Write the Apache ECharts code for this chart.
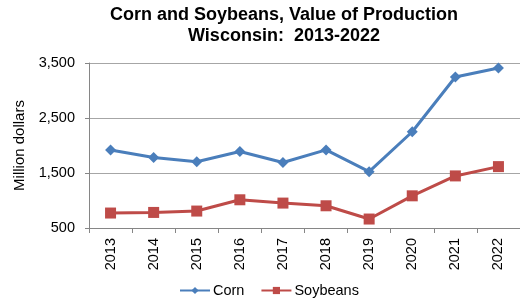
<!DOCTYPE html>
<html><head><meta charset="utf-8">
<script src="https://cdn.jsdelivr.net/npm/echarts@6/dist/echarts.min.js"></script>
<style>html,body{margin:0;padding:0;background:#fff}#c{width:520px;height:303px}</style>
</head><body><div id="c"></div>
<script>
var years = ['2013','2014','2015','2016','2017','2018','2019','2020','2021','2022'];
var corn = [1920, 1780, 1705, 1890, 1690, 1920, 1525, 2250, 3245, 3410];
var soybeans = [772, 783, 808, 1013, 953, 904, 663, 1085, 1447, 1616];
var yTicks = [500, 1500, 2500, 3500];

var chart = echarts.init(document.getElementById('c'));
var font = 'Liberation Sans, Arial, sans-serif';
chart.setOption({
  animation: false,
  title: {
    text: 'Corn and Soybeans, Value of Production\nWisconsin:  2013-2022',
    left: 279, textAlign: 'center', top: 0,
    textStyle: {fontFamily: font, fontSize: 18, fontWeight: 'bold', color: '#000', lineHeight: 21}
  },
  legend: {
    bottom: 0, left: 174,
    itemWidth: 30, itemHeight: 9, itemGap: 16,
    textStyle: {fontFamily: font, fontSize: 14.5, color: '#000', padding: [0, 0, 0, -2]},
    data: ['Corn', 'Soybeans']
  },
  grid: {left: 89, right: 0, top: 63, bottom: 75, containLabel: false},
  xAxis: {
    type: 'category', data: years, boundaryGap: true,
    axisLine: {lineStyle: {color: '#868686'}},
    axisTick: {show: true, length: 5, lineStyle: {color: '#868686'}},
    axisLabel: {rotate: 90, fontFamily: font, fontSize: 14.5, color: '#000', margin: 10}
  },
  yAxis: {
    type: 'value', min: 500, max: 3500, interval: 1000,
    name: 'Million dollars', nameLocation: 'middle', nameGap: 60,
    nameTextStyle: {fontFamily: font, fontSize: 15, color: '#000'},
    axisLine: {show: true, lineStyle: {color: '#868686'}},
    axisTick: {show: true, length: 4, lineStyle: {color: '#868686'}},
    axisLabel: {fontFamily: font, fontSize: 14.5, color: '#000', margin: 14,
      formatter: function(v){ return v.toLocaleString('en-US'); }},
    splitLine: {lineStyle: {color: '#a6a6a6'}}
  },
  series: [
    {name: 'Corn', type: 'line', data: corn, symbol: 'diamond', symbolSize: 11,
     itemStyle: {color: '#4a7ebb'}, lineStyle: {width: 3, color: '#4a7ebb'}},
    {name: 'Soybeans', type: 'line', data: soybeans, symbol: 'rect', symbolSize: 11,
     itemStyle: {color: '#be4b48'}, lineStyle: {width: 3, color: '#be4b48'}}
  ]
});
</script></body></html>
